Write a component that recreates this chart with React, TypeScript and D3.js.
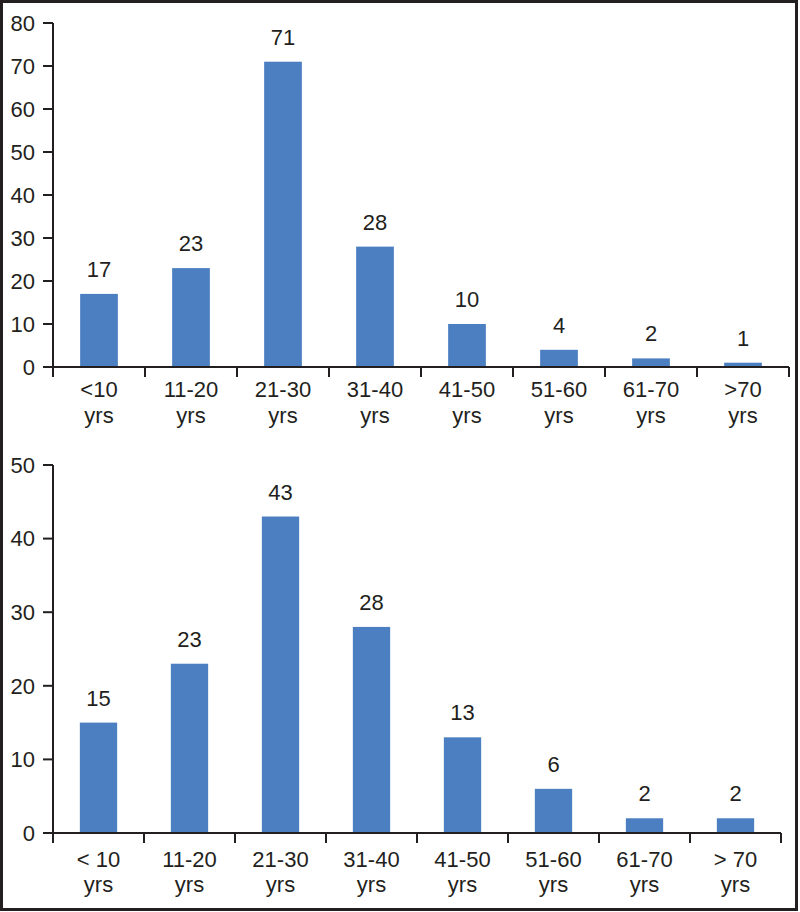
import React from 'react'
import * as d3 from 'd3'

const topCategories = ['<10', '11-20', '21-30', '31-40', '41-50', '51-60', '61-70', '>70']
const topValues = [17, 23, 71, 28, 10, 4, 2, 1]
const topTicks = [0, 10, 20, 30, 40, 50, 60, 70, 80]

const bottomCategories = ['< 10', '11-20', '21-30', '31-40', '41-50', '51-60', '61-70', '> 70']
const bottomValues = [15, 23, 43, 28, 13, 6, 2, 2]
const bottomTicks = [0, 10, 20, 30, 40, 50]

const unitLabel = 'yrs'

const BAR = '#4b7fc1'
const INK = '#231f20'
const FONT = 'Liberation Sans, Arial, sans-serif'
const FS = 22

interface PanelProps {
  categories: string[]
  values: number[]
  ticks: number[]
  x0: number
  x1: number
  yTop: number
  yBottom: number
  labelY1: number
  labelY2: number
}

function Panel({ categories, values, ticks, x0, x1, yTop, yBottom, labelY1, labelY2 }: PanelProps) {
  const x = d3.scaleBand<string>().domain(categories).range([x0, x1]).padding(0)
  const y = d3.scaleLinear().domain([0, d3.max(ticks) as number]).range([yBottom, yTop])
  const barW = x.step() * 0.41
  const bounds = categories.map(c => x(c) as number).concat([x1])

  return (
    <g fontFamily={FONT} fill={INK}>
      {/* bars */}
      {values.map((v, i) => {
        const cx = (x(categories[i]) as number) + x.bandwidth() / 2
        return (
          <g key={i}>
            <rect x={cx - barW / 2} y={y(v)} width={barW} height={y(0) - y(v)} fill={BAR} />
            <text x={cx} y={y(v) - 17} textAnchor="middle" fontSize={FS}>{v}</text>
            <text x={cx} y={labelY1} textAnchor="middle" fontSize={FS}>{categories[i]}</text>
            <text x={cx} y={labelY2} textAnchor="middle" fontSize={FS}>{unitLabel}</text>
          </g>
        )
      })}

      {/* y axis */}
      <line x1={x0} x2={x0} y1={y(d3.max(ticks) as number)} y2={y(0)} stroke={INK} strokeWidth={2} />
      {ticks.map(t => (
        <g key={t}>
          <line x1={x0 - 10} x2={x0} y1={y(t)} y2={y(t)} stroke={INK} strokeWidth={2} />
          <text x={x0 - 18} y={y(t)} dy="0.35em" textAnchor="end" fontSize={FS}>{t}</text>
        </g>
      ))}

      {/* x axis */}
      <line x1={x0 - 10} x2={x1} y1={y(0)} y2={y(0)} stroke={INK} strokeWidth={2} />
      {bounds.map((b, i) => (
        <line key={i} x1={b} x2={b} y1={y(0)} y2={y(0) + 10} stroke={INK} strokeWidth={2} />
      ))}
    </g>
  )
}

export default function App() {
  return (
    <svg
      width={800}
      height={912}
      style={{ position: 'absolute', left: 0, top: 0, display: 'block', background: '#fff' }}
    >
      <rect x={0} y={0} width={800} height={912} fill="#fff" />
      <rect x={1.5} y={1.5} width={795} height={908} fill="none" stroke={INK} strokeWidth={3} />
      <Panel
        categories={topCategories}
        values={topValues}
        ticks={topTicks}
        x0={53}
        x1={789}
        yTop={23}
        yBottom={367}
        labelY1={397}
        labelY2={423}
      />
      <Panel
        categories={bottomCategories}
        values={bottomValues}
        ticks={bottomTicks}
        x0={53}
        x1={781}
        yTop={465}
        yBottom={833}
        labelY1={867}
        labelY2={892}
      />
    </svg>
  )
}
